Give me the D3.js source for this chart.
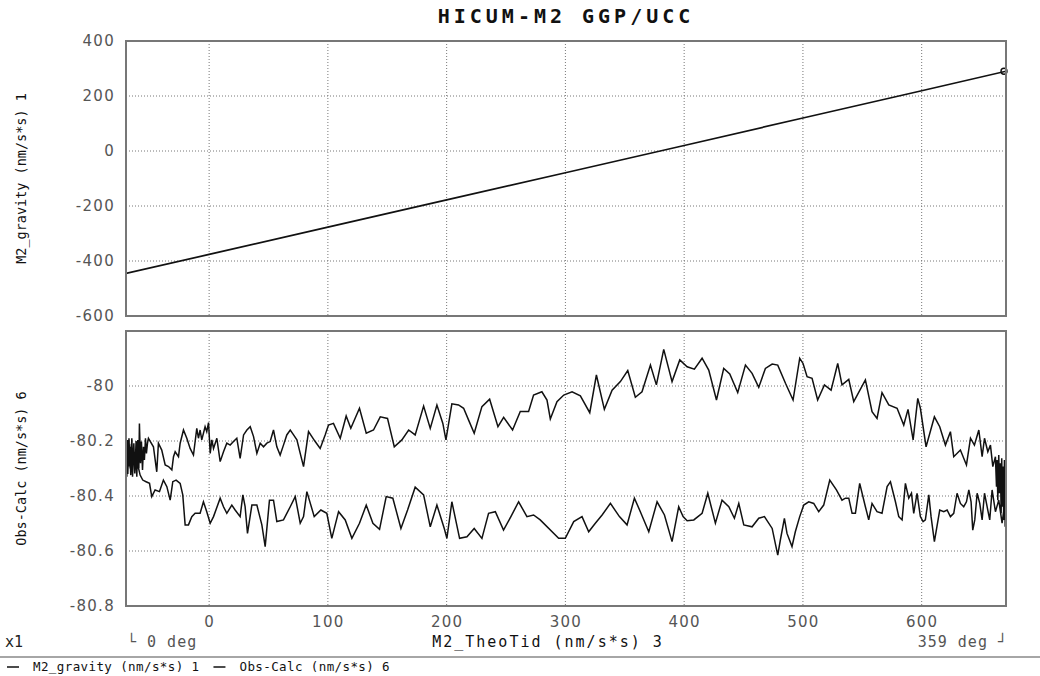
<!DOCTYPE html>
<html><head><meta charset="utf-8">
<script src="https://cdn.jsdelivr.net/npm/d3@7"></script>
<style>
body{margin:0;background:#fff}
svg{display:block}
</style>
</head><body>
<svg id="c" width="1040" height="676"></svg>
<script>
// ---------- data ----------
const title = "HICUM-M2 GGP/UCC";
const xLabel = "M2_TheoTid (nm/s*s) 3";
const topLabel = "M2_gravity (nm/s*s) 1";
const botLabel = "Obs-Calc (nm/s*s) 6";
const xTicks = [0,100,200,300,400,500,600];
const topTicks = [400,200,0,-200,-400,-600];
const botTicks = [-80,-80.2,-80.4,-80.6,-80.8];
const xDomain = [-70,671];
const topDomain = [-600,400];
const botDomain = [-80.8,-79.8];

// M2_gravity vs M2_TheoTid
const gravX = [-70,0,100,200,300,400,500,600,671];
const gravY = [-445,-376,-277,-178,-79,20,120,219,290];

// Obs-Calc loop: upper branch (left -> right)
const upperX = [-69.3,-68.5,-67.7,-66.8,-66.0,-65.1,-64.3,-63.4,-62.6,-61.8,-60.9,-60.1,-59.2,-58.7,-57.8,-57.0,-56.1,-55.3,-54.5,-53.6,-52.8,-51.9,
-51.1,-46.9,-44.1,-42.7,-39.9,-37.0,-34.2,-31.4,-30.0,-28.6,-25.8,-24.4,-21.6,-18.8,-16.0,-13.2,-10.4,-9.0,-7.6,-6.2,-3.4,-2.0,-0.5,0.9,2.3,3.7,6.5,9.3,12.1,14.9,17.7,20.5,23.3,26.1,29.0,31.8,34.6,37.4,40.2,43.0,45.8,48.6,51.4,54.2,57.0,59.8,62.6,65.4,68.3,71.1,73.9,76.7,79.5,
83.7,89.3,93.5,97.7,100.5,104.7,110.4,115.4,119.3,126.6,132.3,138.4,144.1,150.2,155.9,162.3,168.0,173.5,180.6,186.2,191.8,196.8,199.4,204.4,210.0,214.3,218.5,223.2,229.7,236.2,243.2,248.0,255.5,262.0,269.0,273.2,280.2,284.5,
287.3,292.9,298.6,305.6,312.6,320.5,326.1,332.8,339.3,346.3,352.5,358.9,364.5,371.6,376.6,382.8,389.8,396.3,402.5,408.6,415.1,420.7,427.2,433.3,438.4,445.1,451.6,457.2,462.8,468.4,474.1,478.8,
485.3,491.7,497.3,500.1,503.5,507.7,512.4,518.1,523.7,529.3,532.9,538.6,542.8,552.6,558.2,562.4,566.6,572.3,579.3,584.9,588.5,592.8,596.7,598.9,603.7,610.7,615.2,620.0,624.2,627.0,632.6,637.7,641.1,644.4,648.1,650.9,652.9,655.7,657.9,659.9,
662.1,663.0,663.5,664.1,664.9,665.5,666.3,666.9,667.4,668.0,668.6,669.1,669.7,670.3,670.8,671];
const upperY = [-80.330,-80.196,-80.293,-80.221,-80.324,-80.190,-80.305,-80.208,-80.318,-80.233,-80.330,-80.196,-80.299,-80.136,-80.281,-80.202,-80.305,-80.221,-80.269,-80.190,-80.245,-80.208,
-80.190,-80.221,-80.312,-80.208,-80.233,-80.287,-80.293,-80.305,-80.257,-80.239,-80.257,-80.208,-80.160,-80.190,-80.227,-80.251,-80.154,-80.190,-80.160,-80.196,-80.148,-80.166,-80.133,-80.245,-80.196,-80.227,-80.190,-80.275,-80.239,-80.208,-80.215,-80.202,-80.190,-80.263,-80.178,-80.160,-80.148,-80.184,-80.245,-80.208,-80.221,-80.208,-80.202,-80.160,-80.221,-80.251,-80.215,-80.178,-80.160,-80.178,-80.196,-80.245,-80.293,
-80.166,-80.202,-80.227,-80.178,-80.142,-80.136,-80.190,-80.109,-80.154,-80.081,-80.172,-80.160,-80.112,-80.118,-80.221,-80.196,-80.160,-80.178,-80.073,-80.154,-80.069,-80.136,-80.196,-80.065,-80.069,-80.081,-80.124,-80.172,-80.075,-80.048,-80.148,-80.114,-80.160,-80.093,-80.093,-80.033,-80.021,-80.051,
-80.120,-80.057,-80.033,-80.021,-80.036,-80.097,-79.960,-80.085,-80.015,-79.984,-79.944,-80.041,-80.021,-79.924,-79.996,-79.867,-79.984,-79.905,-79.930,-79.939,-79.899,-79.942,-80.051,-79.936,-79.956,-80.024,-79.924,-79.954,-80.005,-79.936,-79.920,-79.924,
-79.990,-80.051,-79.899,-79.918,-79.966,-79.972,-80.051,-79.996,-80.015,-79.918,-79.996,-79.976,-80.057,-79.978,-80.093,-80.118,-80.024,-80.069,-80.081,-80.142,-80.085,-80.196,-80.045,-80.081,-80.221,-80.112,-80.148,-80.215,-80.166,-80.257,-80.233,-80.287,-80.190,-80.215,-80.160,-80.257,-80.190,-80.239,-80.215,-80.293,
-80.257,-80.366,-80.269,-80.415,-80.251,-80.390,-80.281,-80.463,-80.263,-80.439,-80.293,-80.487,-80.269,-80.512,-80.305,-80.390];

// Obs-Calc loop: lower branch (right -> left)
const lowerX = [667.7,664.9,662.1,659.3,657.3,655.1,652.9,650.9,648.9,646.7,644.7,643.0,641.6,639.7,637.7,635.4,632.6,629.8,627.0,624.2,621.4,618.6,615.2,610.7,607.9,606.0,603.1,601.2,598.9,596.1,593.3,591.4,589.1,586.3,583.5,580.7,577.9,573.7,570.9,566.6,562.4,558.2,555.4,552.6,547.8,544.2,541.4,538.6,535.8,532.9,528.2,522.6,517.5,513.3,509.1,504.9,500.7,497.3,493.6,490.8,486.6,484.4,481.0,
478.8,474.1,467.6,462.8,457.2,450.2,446.0,442.3,437.6,431.9,426.3,419.9,415.1,408.1,402.5,399.1,395.4,389.8,383.4,377.2,370.2,363.1,358.1,351.9,345.5,337.9,330.9,325.2,319.6,314.0,307.0,299.9,294.3,
278.8,273.2,267.6,260.6,254.1,247.9,241.0,235.3,229.7,223.2,217.1,210.9,204.4,200.2,198.0,191.8,186.2,180.6,173.5,167.1,161.5,154.7,149.1,143.5,137.9,132.3,126.6,120.2,114.6,109.0,103.3,99.1,94.1,88.5,82.3,
79.5,76.7,72.5,68.3,62.6,57.0,54.2,50.8,47.2,44.4,40.2,36.0,32.3,30.3,28.4,26.1,21.9,19.1,14.9,12.1,9.3,3.7,0.9,-2.0,-4.8,-7.6,-11.8,-14.6,-17.4,-20.2,-22.2,-24.4,-27.8,-30.6,-32.8,-35.6,-38.5,-41.8,-45.5,-48.3,-50.2,-53.1,-55.9,-58.1,
-60.5,-61.5,-62.5,-63.5,-64.5,-65.5,-66.5,-67.5,-68.5,-69.5,-70];
const lowerY = [-80.499,-80.415,-80.457,-80.378,-80.487,-80.439,-80.390,-80.487,-80.427,-80.390,-80.487,-80.524,-80.421,-80.378,-80.421,-80.439,-80.427,-80.390,-80.463,-80.475,-80.451,-80.457,-80.451,-80.566,-80.475,-80.396,-80.487,-80.493,-80.475,-80.390,-80.463,-80.390,-80.408,-80.354,-80.487,-80.475,-80.421,-80.348,-80.366,-80.463,-80.457,-80.427,-80.487,-80.439,-80.354,-80.463,-80.463,-80.408,-80.408,-80.415,-80.378,-80.342,-80.433,-80.457,-80.427,-80.421,-80.433,-80.475,-80.530,-80.584,-80.536,-80.481,-80.560,
-80.615,-80.518,-80.475,-80.481,-80.512,-80.505,-80.427,-80.481,-80.439,-80.415,-80.499,-80.390,-80.463,-80.487,-80.490,-80.475,-80.439,-80.566,-80.469,-80.421,-80.530,-80.457,-80.408,-80.505,-80.475,-80.427,-80.469,-80.499,-80.530,-80.475,-80.493,-80.554,-80.554,
-80.487,-80.469,-80.475,-80.421,-80.475,-80.524,-80.457,-80.463,-80.554,-80.518,-80.548,-80.554,-80.421,-80.554,-80.518,-80.433,-80.512,-80.396,-80.368,-80.451,-80.518,-80.408,-80.402,-80.521,-80.499,-80.433,-80.499,-80.554,-80.487,-80.457,-80.554,-80.463,-80.451,-80.475,-80.384,
-80.475,-80.499,-80.402,-80.439,-80.487,-80.493,-80.415,-80.415,-80.584,-80.505,-80.433,-80.433,-80.536,-80.439,-80.396,-80.475,-80.451,-80.433,-80.463,-80.439,-80.408,-80.475,-80.499,-80.457,-80.421,-80.463,-80.463,-80.475,-80.505,-80.505,-80.396,-80.354,-80.342,-80.348,-80.415,-80.366,-80.342,-80.384,-80.378,-80.402,-80.354,-80.348,-80.342,-80.324,
-80.28,-80.20,-80.31,-80.22,-80.33,-80.21,-80.30,-80.19,-80.32,-80.25,-80.28];

// ---------- drawing ----------
const svg = d3.select("#c");
const L = 126, R = 1006;
const topP = {t:41, b:316};
const botP = {t:331, b:606};

const x = d3.scaleLinear().domain(xDomain).range([L, R]);
const yTop = d3.scaleLinear().domain(topDomain).range([topP.b, topP.t]);
const yBot = d3.scaleLinear().domain(botDomain).range([botP.b, botP.t]);

const tickFont = "DejaVu Sans, sans-serif";
const monoFont = "DejaVu Sans Mono, monospace";

function panel(y, ticks, p, label) {
  const g = svg.append("g");
  g.selectAll("line.vg").data(xTicks).join("line")
    .attr("x1", d => x(d)).attr("x2", d => x(d))
    .attr("y1", p.t).attr("y2", p.b)
    .attr("stroke", "#777").attr("stroke-width", 1).attr("stroke-dasharray", "1,2");
  g.selectAll("line.hg").data(ticks.filter(d => d > y.domain()[0] && d < y.domain()[1])).join("line")
    .attr("x1", L).attr("x2", R)
    .attr("y1", d => y(d)).attr("y2", d => y(d))
    .attr("stroke", "#777").attr("stroke-width", 1).attr("stroke-dasharray", "1,2");
  const ax = d3.axisLeft(y).tickValues(ticks).tickSize(0).tickPadding(11).tickFormat(d => String(d));
  const ag = svg.append("g").attr("transform", `translate(${L},0)`).call(ax);
  ag.select(".domain").remove();
  ag.selectAll("text").attr("font-family", tickFont).attr("font-size", 15)
    .attr("letter-spacing", "1.3px").attr("fill", "#555");
  svg.append("text")
    .attr("transform", `translate(26,${(p.t + p.b) / 2}) rotate(-90)`)
    .attr("text-anchor", "middle")
    .attr("font-family", monoFont).attr("font-size", 13.5)
    .attr("fill", "#111")
    .text(label);
  return g;
}

panel(yTop, topTicks, topP, topLabel);
panel(yBot, botTicks, botP, botLabel);

svg.append("clipPath").attr("id", "ct").append("rect")
  .attr("x", L).attr("y", topP.t).attr("width", R - L).attr("height", topP.b - topP.t);
svg.append("clipPath").attr("id", "cb").append("rect")
  .attr("x", L).attr("y", botP.t).attr("width", R - L).attr("height", botP.b - botP.t);

const lineTop = d3.line().x(d => x(d[0])).y(d => yTop(d[1]));
const lineBot = d3.line().x(d => x(d[0])).y(d => yBot(d[1]));

const gravPts = gravX.map((v, i) => [v, gravY[i]]);
svg.append("path").attr("clip-path", "url(#ct)")
  .attr("d", lineTop(gravPts)).attr("fill", "none")
  .attr("stroke", "#111").attr("stroke-width", 1.7);
const last = gravPts[gravPts.length - 1];
svg.append("circle").attr("cx", x(last[0]) - 2).attr("cy", yTop(last[1]))
  .attr("r", 3).attr("fill", "none").attr("stroke", "#111").attr("stroke-width", 1.4);

const obsPts = upperX.map((v, i) => [v, upperY[i]])
  .concat(lowerX.map((v, i) => [v, lowerY[i]]));
svg.append("path").attr("clip-path", "url(#cb)")
  .attr("d", lineBot(obsPts)).attr("fill", "none")
  .attr("stroke", "#111").attr("stroke-width", 1.5).attr("stroke-linejoin", "miter");

[topP, botP].forEach(p => {
  svg.append("rect").attr("x", L).attr("y", p.t).attr("width", R - L).attr("height", p.b - p.t)
    .attr("fill", "none").attr("stroke", "#777").attr("stroke-width", 2);
});

const xa = d3.axisBottom(x).tickValues(xTicks).tickSize(0).tickPadding(10).tickFormat(d => String(d));
const xg = svg.append("g").attr("transform", `translate(0,${botP.b})`).call(xa);
xg.select(".domain").remove();
xg.selectAll("text").attr("font-family", tickFont).attr("font-size", 15)
  .attr("letter-spacing", "1.3px").attr("fill", "#555");

svg.append("text").attr("x", 566).attr("y", 23).attr("text-anchor", "middle")
  .attr("font-family", monoFont).attr("font-weight", "bold").attr("font-size", 20)
  .attr("letter-spacing", "4px").attr("fill", "#111").text(title);

const rowY = 647;
svg.append("text").attr("x", 5).attr("y", rowY).attr("font-family", monoFont).attr("font-size", 15)
  .attr("fill", "#222").text("x1");
svg.append("text").attr("x", 127).attr("y", rowY).attr("font-family", monoFont).attr("font-size", 15)
  .attr("letter-spacing", "1px").attr("fill", "#555").text("\u2514 0 deg");
svg.append("text").attr("x", 548).attr("y", rowY).attr("text-anchor", "middle")
  .attr("font-family", monoFont).attr("font-size", 15).attr("letter-spacing", "2px")
  .attr("fill", "#111").text(xLabel);
svg.append("text").attr("x", 1008).attr("y", rowY).attr("text-anchor", "end")
  .attr("font-family", monoFont).attr("font-size", 15).attr("letter-spacing", "1px")
  .attr("fill", "#555").text("359 deg \u2518");

svg.append("line").attr("x1", 0).attr("x2", 1040).attr("y1", 657).attr("y2", 657)
  .attr("stroke", "#888").attr("stroke-width", 1.6);

const legendItems = [topLabel, botLabel];
let lx = 7;
legendItems.forEach(t => {
  svg.append("line").attr("x1", lx).attr("x2", lx + 12).attr("y1", 667).attr("y2", 667)
    .attr("stroke", "#111").attr("stroke-width", 1.5);
  const tx = svg.append("text").attr("x", lx + 26).attr("y", 671)
    .attr("font-family", monoFont).attr("font-size", 12.5).attr("letter-spacing", "0.4px")
    .attr("fill", "#111").text(t);
  lx = lx + 26 + tx.node().getComputedTextLength() + 14;
});
</script>
</body></html>
